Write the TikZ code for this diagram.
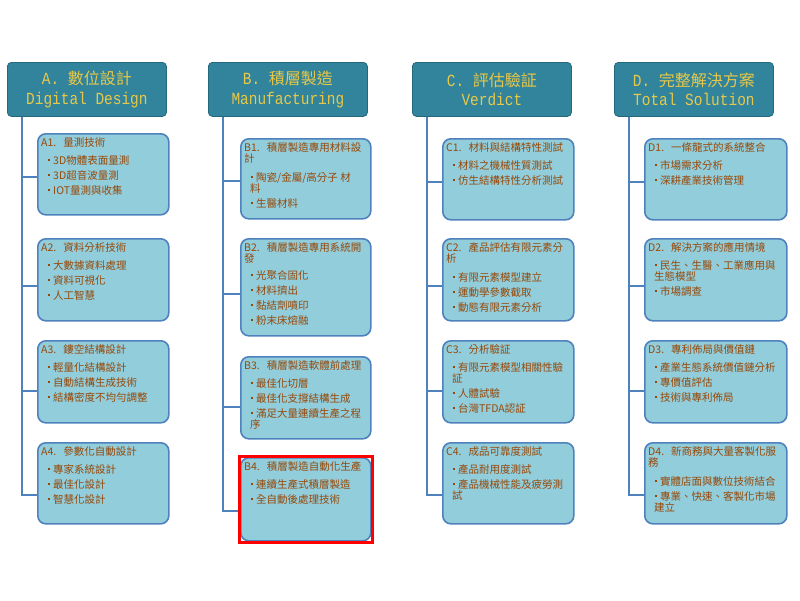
\documentclass[tikz,border=0pt]{standalone}
\usepackage{fontspec}
\usepackage{tikz}
\usetikzlibrary{calc,fit}
\newfontfamily\cjk{Noto Sans CJK TC}
\newfontfamily\hdmono[FakeStretch=0.85]{Liberation Mono}
\definecolor{headfill}{RGB}{49,132,155}
\definecolor{headline}{RGB}{36,104,124}
\definecolor{headtext}{RGB}{232,200,72}
\definecolor{leaffill}{RGB}{146,205,220}
\definecolor{leafline}{RGB}{79,129,189}
\definecolor{leaftext}{RGB}{151,72,7}
\newcommand{\bul}{\hspace*{7pt}\rule[3pt]{2pt}{2pt}\hspace{3pt}}
\newcommand{\cont}{\hspace*{6pt}}
\newcommand{\ttl}[2]{#1\hspace{7pt}#2}

\tikzset{
  head/.style={draw=headline, fill=headfill, rounded corners=4pt, line width=0.8pt,
    anchor=north west, minimum width=159pt, minimum height=54pt, inner sep=0pt,
    text=headtext, align=center, font={\cjk\fontsize{16}{19.5}\selectfont}},
  leaf/.style={draw=leafline, fill=leaffill, rounded corners=8pt, line width=1.6pt,
    anchor=north west, inner sep=0pt, minimum width=#1, minimum height=81pt},
  leaf/.default=131pt,
  leaftxt/.style={anchor=north west, inner sep=0pt, align=left, text=leaftext,
    font={\cjk\fontsize{10.5}{11}\selectfont}},
  spine/.style={draw=leafline, line width=2pt}
}

\begin{document}
\begin{tikzpicture}[x=1pt, y=-1pt]
  \useasboundingbox (0,0) rectangle (800,600);

  % column heads
  \node[head] (hA) at (7,62)   {{\hdmono\fontsize{17}{19.5}\selectfont A.~}數位設計\\{\hdmono\fontsize{17}{19.5}\selectfont Digital Design}};
  \node[head] (hB) at (208,62) {{\hdmono\fontsize{17}{19.5}\selectfont B.~}積層製造\\{\hdmono\fontsize{17}{19.5}\selectfont Manufacturing}};
  \node[head] (hC) at (412,62) {{\hdmono\fontsize{17}{19.5}\selectfont C.~}評估驗証\\{\hdmono\fontsize{17}{19.5}\selectfont Verdict}};
  \node[head] (hD) at (614,62) {{\hdmono\fontsize{17}{19.5}\selectfont D.~}完整解決方案\\{\hdmono\fontsize{17}{19.5}\selectfont Total Solution}};

  % boxes
  \node[leaf] (A1) at (37,133) {};
  \node[leaf, minimum height=82pt] (A2) at (37,238) {};
  \node[leaf, minimum height=82pt] (A3) at (37,340) {};
  \node[leaf] (A4) at (37,442) {};

  \node[leaf=130pt, minimum height=80pt] (B1) at (240,138) {};
  \node[leaf=130pt, minimum height=97pt] (B2) at (240,238) {};
  \node[leaf=130pt, minimum height=82pt] (B3) at (240,356) {};
  \node[leaf=130pt, minimum height=83pt] (B4) at (240,457) {};

  \node[leaf] (C1) at (442,138) {};
  \node[leaf, minimum height=82pt] (C2) at (442,238) {};
  \node[leaf, minimum height=82pt] (C3) at (442,340) {};
  \node[leaf] (C4) at (442,442) {};

  \node[leaf=142pt] (D1) at (644,138) {};
  \node[leaf=142pt, minimum height=82pt] (D2) at (644,238) {};
  \node[leaf=142pt, minimum height=82pt] (D3) at (644,340) {};
  \node[leaf=142pt] (D4) at (644,442) {};

  % box texts
  \node[leaftxt] (A1t) at ([xshift=4pt,yshift=-4pt]A1.north west)
    {\ttl{A1.}{量測技術}\\[7pt]\bul 3D物體表面量測\\[4pt]\bul 3D超音波量測\\[4pt]\bul IOT量測與收集};
  \node[leaftxt] (A2t) at ([xshift=4pt,yshift=-4pt]A2.north west)
    {\ttl{A2.}{資料分析技術}\\[7pt]\bul 大數據資料處理\\[4pt]\bul 資料可視化\\[4pt]\bul 人工智慧};
  \node[leaftxt] (A3t) at ([xshift=4pt,yshift=-4pt]A3.north west)
    {\ttl{A3.}{鏤空結構設計}\\[7pt]\bul 輕量化結構設計\\[4pt]\bul 自動結構生成技術\\[4pt]\bul 結構密度不均勻調整};
  \node[leaftxt] (A4t) at ([xshift=4pt,yshift=-4pt]A4.north west)
    {\ttl{A4.}{參數化自動設計}\\[7pt]\bul 專家系統設計\\[4pt]\bul 最佳化設計\\[4pt]\bul 智慧化設計};

  \node[leaftxt] (B1t) at ([xshift=4pt,yshift=-4pt]B1.north west)
    {\ttl{B1.}{積層製造專用材料設}\\計\\[8pt]\bul 陶瓷/金屬/高分子 材\\\cont 料\\[4pt]\bul 生醫材料};
  \node[leaftxt] (B2t) at ([xshift=4pt,yshift=-4pt]B2.north west)
    {\ttl{B2.}{積層製造專用系統開}\\發\\[6pt]\bul 光聚合固化\\[4pt]\bul 材料擠出\\[4pt]\bul 黏結劑噴印\\[4pt]\bul 粉末床熔融};
  \node[leaftxt] (B3t) at ([xshift=4pt,yshift=-4pt]B3.north west)
    {\ttl{B3.}{積層製造軟體前處理}\\[7pt]\bul 最佳化切層\\[4pt]\bul 最佳化支撐結構生成\\[4pt]\bul 滿足大量連續生產之程\\\cont 序};
  \node[leaftxt] (B4t) at ([xshift=4pt,yshift=-4pt]B4.north west)
    {\ttl{B4.}{積層製造自動化生產}\\[7pt]\bul 連續生產式積層製造\\[4pt]\bul 全自動後處理技術};

  \node[leaftxt] (C1t) at ([xshift=4pt,yshift=-4pt]C1.north west)
    {\ttl{C1.}{材料與結構特性測試}\\[7pt]\bul 材料之機械性質測試\\[4pt]\bul 仿生結構特性分析測試};
  \node[leaftxt] (C2t) at ([xshift=4pt,yshift=-4pt]C2.north west)
    {\ttl{C2.}{產品評估有限元素分}\\析\\[8pt]\bul 有限元素模型建立\\[4pt]\bul 運動學參數截取\\[4pt]\bul 動態有限元素分析};
  \node[leaftxt] (C3t) at ([xshift=4pt,yshift=-4pt]C3.north west)
    {\ttl{C3.}{分析驗証}\\[7pt]\bul 有限元素模型相關性驗\\\cont 証\\[4pt]\bul 人體試驗\\[4pt]\bul 台灣TFDA認証};
  \node[leaftxt] (C4t) at ([xshift=4pt,yshift=-4pt]C4.north west)
    {\ttl{C4.}{成品可靠度測試}\\[7pt]\bul 產品耐用度測試\\[4pt]\bul 產品機械性能及疲勞測\\\cont 試};

  \node[leaftxt] (D1t) at ([xshift=4pt,yshift=-4pt]D1.north west)
    {\ttl{D1.}{一條龍式的系統整合}\\[7pt]\bul 市場需求分析\\[4pt]\bul 深耕產業技術管理};
  \node[leaftxt] (D2t) at ([xshift=4pt,yshift=-4pt]D2.north west)
    {\ttl{D2.}{解決方案的應用情境}\\[7pt]\bul 民生、生醫、工業應用與\\\cont 生態模型\\[4pt]\bul 市場調查};
  \node[leaftxt] (D3t) at ([xshift=4pt,yshift=-4pt]D3.north west)
    {\ttl{D3.}{專利佈局與價值鏈}\\[7pt]\bul 產業生態系統價值鏈分析\\[4pt]\bul 專價值評估\\[4pt]\bul 技術與專利佈局};
  \node[leaftxt] (D4t) at ([xshift=4pt,yshift=-4pt]D4.north west)
    {\ttl{D4.}{新商務與大量客製化服}\\務\\[8pt]\bul 實體店面與數位技術結合\\[4pt]\bul 專業、快速、客製化市場\\\cont 建立};

  % spines
  \foreach \c in {A,B,C,D}{
    \draw[spine] ([xshift=15pt]h\c.south west) |- ($(\c4.north west)!.64!(\c4.south west)$);
    \foreach \r/\f in {1/.53,2/.57,3/.61}
      \draw[spine] ($(\c\r.north west)!\f!(\c\r.south west)$) -| ([xshift=15pt]h\c.south west);
  }

  % highlight
  \node[draw=red, line width=3pt, inner sep=0.5pt, fit=(B4)] (mark) {};
\end{tikzpicture}
\end{document}
